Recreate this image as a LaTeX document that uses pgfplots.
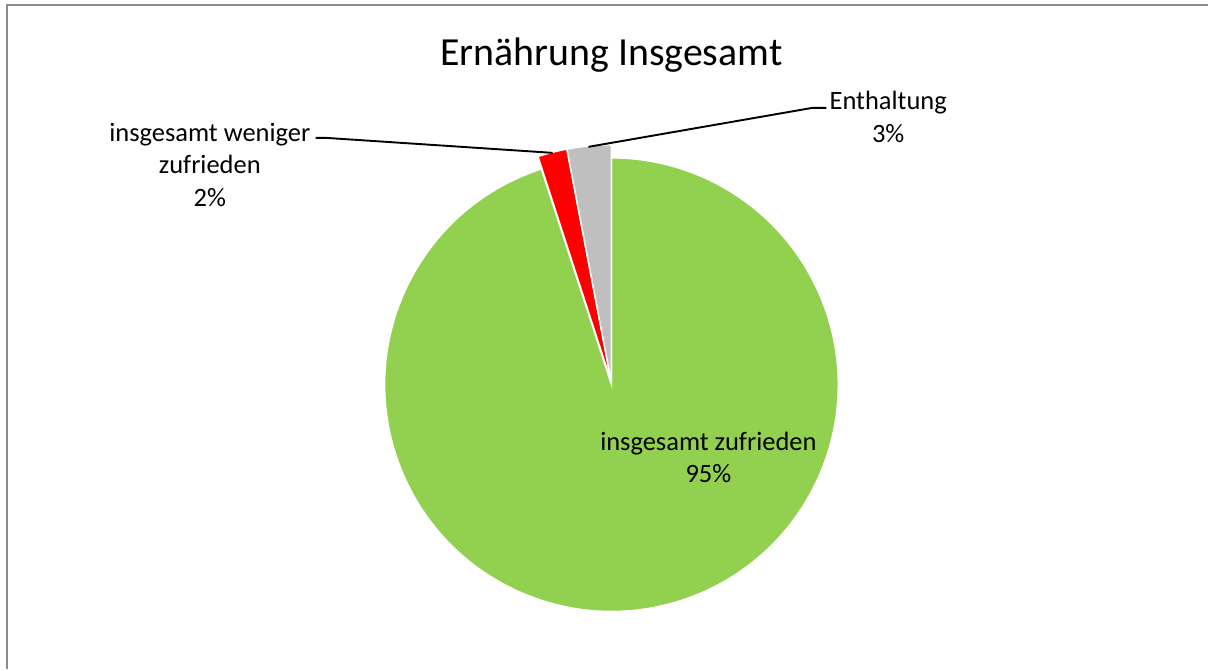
\documentclass[border=0pt]{standalone}
\usepackage{fontspec}
\setmainfont{Carlito}
\usepackage{pgfplots}
\usepackage{pgfplotstable}
\pgfplotsset{compat=1.18}

\definecolor{pgreen}{HTML}{92D050}
\definecolor{pred}{HTML}{FF0000}
\definecolor{pgrey}{HTML}{BFBFBF}
\definecolor{frame}{HTML}{8C8C8C}

% shares in percent, in Excel order (clockwise from 12 o'clock)
\pgfplotstableread{
share
95
2
3
}\piedata

\begin{document}
\begin{tikzpicture}
\pgfplotstablegetelem{0}{share}\of\piedata \pgfmathsetmacro\vA{\pgfplotsretval}
\pgfplotstablegetelem{1}{share}\of\piedata \pgfmathsetmacro\vB{\pgfplotsretval}
\pgfplotstablegetelem{2}{share}\of\piedata \pgfmathsetmacro\vC{\pgfplotsretval}
\pgfmathsetmacro\aA{90}
\pgfmathsetmacro\aB{\aA-3.6*\vA}
\pgfmathsetmacro\aC{\aB-3.6*\vB}
\pgfmathsetmacro\aD{\aC-3.6*\vC}
% start points of the arcs
\pgfmathsetmacro\gx{612+227*cos(\aB)}\pgfmathsetmacro\gy{285+227*sin(\aB)}
\pgfmathsetmacro\rx{612+238*cos(\aC)}\pgfmathsetmacro\ry{287+238*sin(\aC)}
\pgfmathsetmacro\sx{612+238*cos(\aD)}\pgfmathsetmacro\sy{287+238*sin(\aD)}
\begin{axis}[
  width=442.87pt, height=245.43pt, scale only axis,
  xmin=0, xmax=1209, ymin=0, ymax=670,
  hide axis, clip=false,
]
% keep the whole canvas in the bounding box
\path (axis cs:0,0) rectangle (axis cs:1209,670);
% chart frame
\draw[frame, line width=0.8pt] (axis cs:7,0) -- (axis cs:7,665) -- (axis cs:1209,665);

\fill[pgreen, draw=white, line width=0.55pt, line join=miter]
  (axis cs:612,285) -- (axis cs:\gx,\gy) arc[start angle=\aB, end angle=\aA, radius=227] -- cycle;
\fill[pred, draw=white, line width=0.55pt]
  (axis cs:612,287) -- (axis cs:\rx,\ry) arc[start angle=\aC, end angle=\aB, radius=238] -- cycle;
\fill[pgrey, draw=white, line width=0.55pt]
  (axis cs:612,287) -- (axis cs:\sx,\sy) arc[start angle=\aD, end angle=\aC, radius=238] -- cycle;

% leader lines
\draw[black, line width=0.7pt] (axis cs:316,532) -- (axis cs:326,532) -- (axis cs:553,517);
\draw[black, line width=0.7pt] (axis cs:589,523) -- (axis cs:813,562) -- (axis cs:827,562);

% labels
\node[font=\fontsize{14.6}{17}\selectfont] at (axis cs:612,615) {Ernährung Insgesamt};
\node[font=\fontsize{9.7}{11.9}\selectfont, align=center] at (axis cs:889,553) {Enthaltung\\3\%};
\node[font=\fontsize{9.7}{11.9}\selectfont, align=center] at (axis cs:210,505) {insgesamt weniger\\zufrieden\\2\%};
\node[font=\fontsize{9.7}{11.9}\selectfont, align=center] at (axis cs:709,212) {insgesamt zufrieden\\95\%};
\end{axis}
\end{tikzpicture}
\end{document}
